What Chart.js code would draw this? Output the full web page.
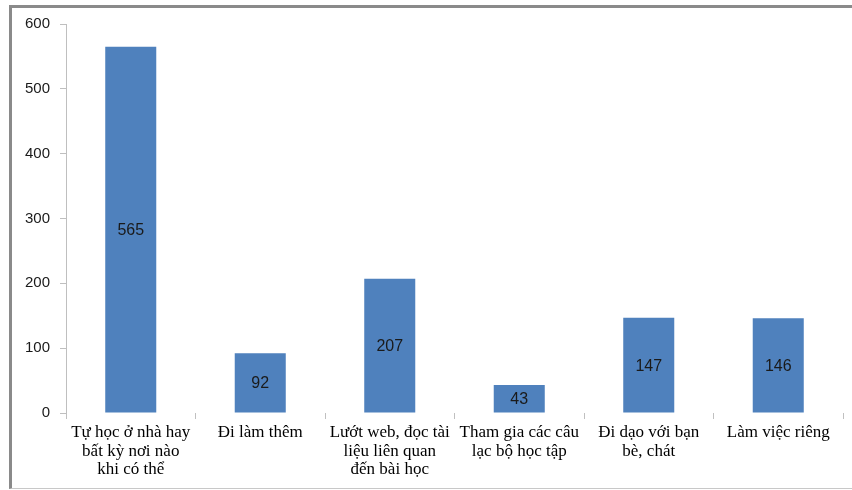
<!DOCTYPE html>
<html>
<head>
<meta charset="utf-8">
<script src="https://cdn.jsdelivr.net/npm/chart.js@4.4.1/dist/chart.umd.min.js"></script>
<style>
  html, body { margin: 0; padding: 0; background: #ffffff; }
  #wrap { position: relative; width: 852px; height: 490px; overflow: hidden; }
  #frame {
    position: absolute; left: 9px; top: 5px; width: 900px; height: 480px;
    border-top: 3px solid #8a8a8a; border-left: 3px solid #8a8a8a;
    border-bottom: 1px solid #c8c8c8;
  }
  #c { position: absolute; left: 0; top: 0; }
</style>
</head>
<body>
<div id="wrap">
  <div id="frame"></div>
  <canvas id="c" width="852" height="490"></canvas>
</div>
<script>
// Activities and number of responses
const categories = [
  ["Tự học ở nhà hay", "bất kỳ nơi nào", "khi có thể"],
  "Đi làm thêm",
  ["Lướt web, đọc tài", "liệu liên quan", "đến bài học"],
  ["Tham gia các câu", "lạc bộ học tập"],
  ["Đi dạo với bạn", "bè, chát"],
  "Làm việc riêng"
];
const responses = [565, 92, 207, 43, 147, 146];
const yTicks = [0, 100, 200, 300, 400, 500, 600];

// Writes each bar's value in the middle of the bar
const barValues = {
  id: 'barValues',
  afterDatasetsDraw(chart) {
    const ctx = chart.ctx;
    const meta = chart.getDatasetMeta(0);
    ctx.save();
    ctx.font = '16px "Liberation Sans", Arial, sans-serif';
    ctx.fillStyle = '#1a1a1a';
    ctx.textAlign = 'center';
    ctx.textBaseline = 'middle';
    meta.data.forEach((bar, i) => {
      const v = chart.data.datasets[0].data[i];
      ctx.fillText(String(v), bar.x, (bar.y + bar.base) / 2 + 1);
    });
    ctx.restore();
  }
};

new Chart(document.getElementById('c'), {
  type: 'bar',
  data: {
    labels: categories,
    datasets: [{
      data: responses,
      backgroundColor: '#4f81bd',
      borderWidth: 0,
      barPercentage: 0.394,
      categoryPercentage: 1.0
    }]
  },
  options: {
    responsive: false,
    animation: false,
    devicePixelRatio: 1,
    layout: { padding: { left: 0, right: 9, top: 24, bottom: 0 } },
    plugins: { legend: { display: false }, tooltip: { enabled: false } },
    scales: {
      x: {
        border: { display: false },
        grid: {
          display: true, drawOnChartArea: false, drawTicks: true,
          tickLength: 6, tickColor: '#c0c0c0', offset: true
        },
        ticks: {
          autoSkip: false, maxRotation: 0, minRotation: 0,
          padding: 4, color: '#000000',
          font: { family: '"Liberation Serif", "Times New Roman", serif', size: 17, lineHeight: 1.1 }
        },
        afterFit(scale) { scale.height = 77; }
      },
      y: {
        min: 0, max: 600,
        border: { display: true, color: '#bfbfbf', width: 1 },
        grid: {
          display: true, drawOnChartArea: false, drawTicks: true,
          tickLength: 6, tickColor: '#bfbfbf'
        },
        afterBuildTicks(scale) { scale.ticks = yTicks.map(v => ({ value: v })); },
        ticks: {
          padding: 10, color: '#1a1a1a',
          font: { family: '"Liberation Sans", Arial, sans-serif', size: 15 }
        },
        afterFit(scale) { scale.width = 66; }
      }
    }
  },
  plugins: [barValues]
});
</script>
</body>
</html>
